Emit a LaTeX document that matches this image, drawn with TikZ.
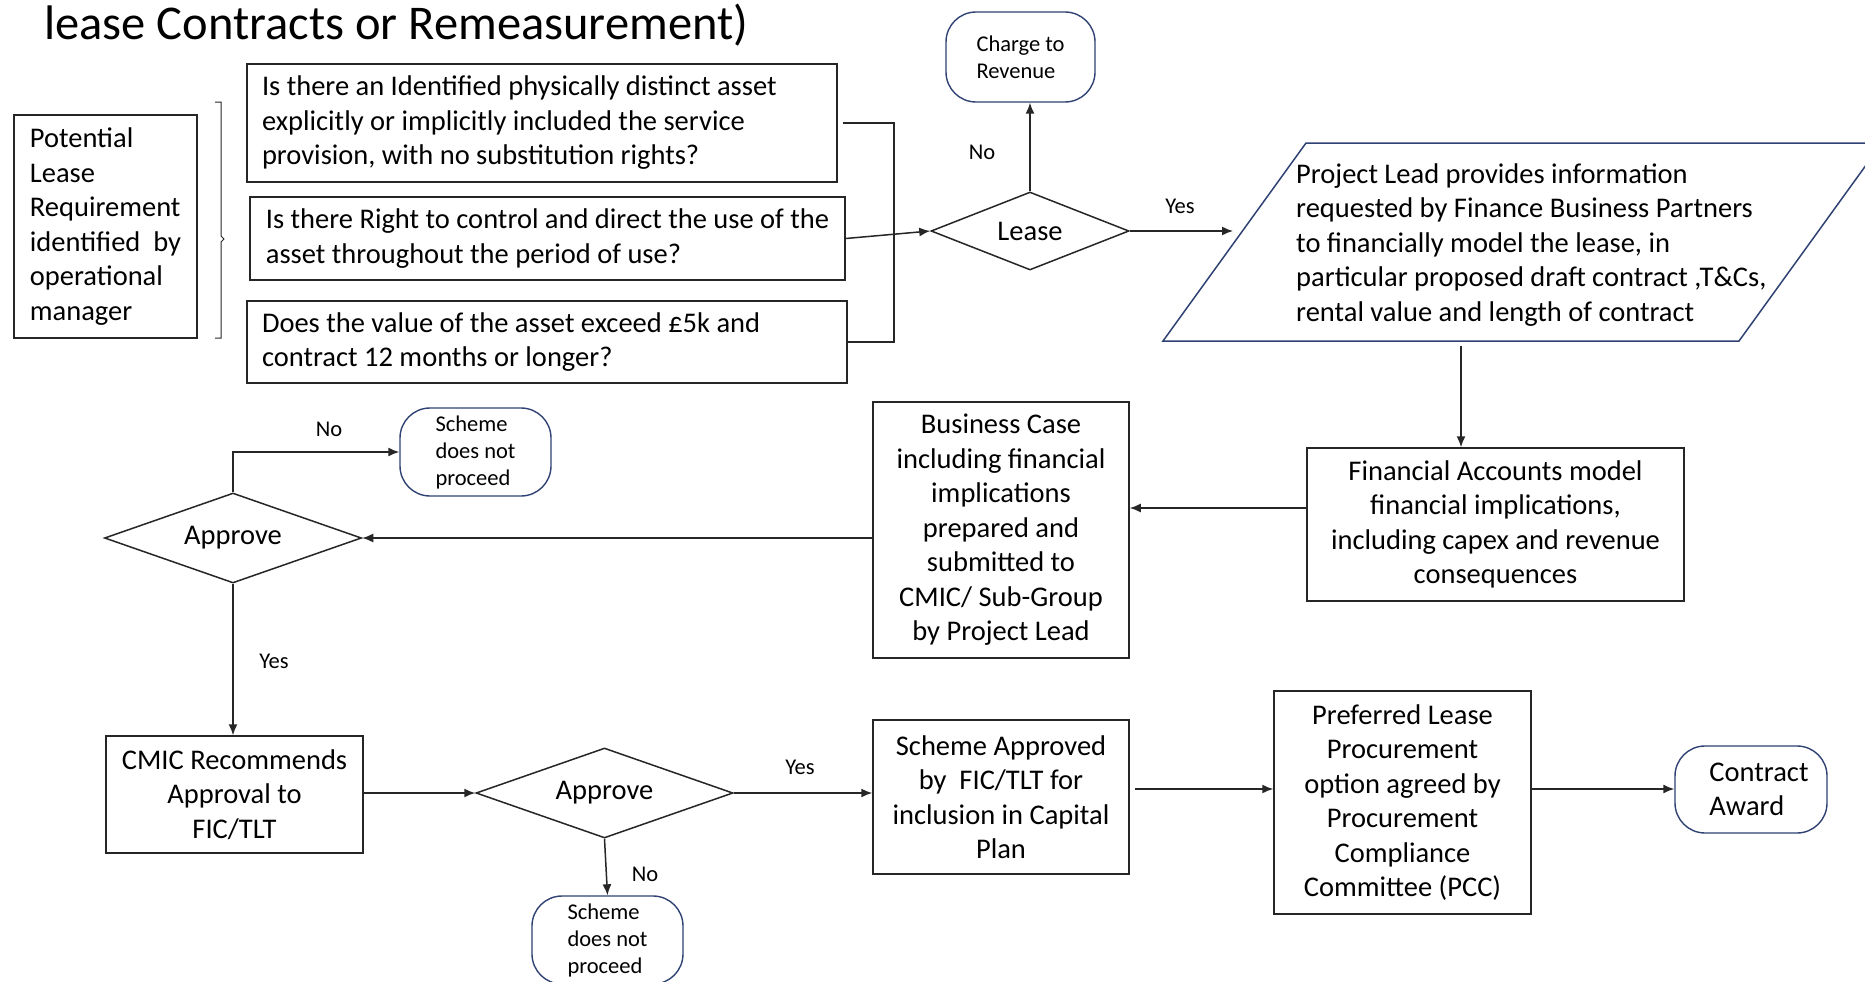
\documentclass[tikz,border=0pt]{standalone}
\usepackage{fontspec}
\setmainfont{Carlito}
\usetikzlibrary{shapes.geometric,arrows.meta}
\definecolor{navy}{HTML}{2F4273}
\definecolor{lineg}{HTML}{262626}
\begin{document}
\begin{tikzpicture}[x=1pt,y=-1pt,
 mainfont/.style={font=\fontsize{28.5}{34.5}\selectfont},
 smallfont/.style={font=\fontsize{22.5}{27}\selectfont},
 box/.style={draw=lineg, line width=1.5pt, mainfont, inner sep=0pt, align=center},
 lbox/.style={box, align=flush left},
 term/.style={draw=navy, line width=1.4pt, rounded corners=30pt, smallfont, align=flush left, inner sep=0pt},
 dec/.style={draw=lineg, line width=1.5pt, shape=diamond, mainfont, inner sep=0pt, aspect=2.8},
 arr/.style={draw=lineg, line width=1.5pt, -{Latex[length=11pt,width=9pt]}},
 conn/.style={draw=lineg, line width=1.5pt},
 lbl/.style={smallfont, inner sep=0pt}]
\useasboundingbox (0,0) rectangle (1865,982);
\clip (0,0) rectangle (1865,982);
\fill[white] (0,0) rectangle (1865,982);

\node[anchor=base west, font=\fontsize{48.5}{58}\selectfont, inner sep=0pt] (title) at (44,40) {lease Contracts or Remeasurement)};

% left column
\node[lbox, minimum width=183, minimum height=223] (pot) at (105.5,226.5)
 {Potential\\ Lease\\ Requirement\\ identified\ \ by\\ operational\\ manager};
\draw[line width=1pt, draw=lineg] (215,102) -- (221,102) -- (221,236) -- (224,239) -- (221,242) -- (221,338) -- (215,338);

\node[lbox, text width=560, minimum width=590, minimum height=118] (q1) at (542,123)
 {Is there an Identified physically distinct asset\\ explicitly or implicitly included the service\\ provision, with no substitution rights?};
\node[lbox, minimum width=595, minimum height=83] (q2) at (547.5,238.5)
 {Is there Right to control and direct the use of the\\ asset throughout the period of use?};
\node[lbox, text width=570, minimum width=600, minimum height=82] (q3) at (547,342)
 {Does the value of the asset exceed £5k and\\ contract 12 months or longer?};

% lease decision
\node[dec, minimum width=198, minimum height=78] (lease) at (1030,231) {Lease};
\node[term, minimum width=149, minimum height=90] (charge) at (1020.5,57) {Charge to\\ Revenue};

% parallelogram
\draw[draw=navy, line width=1.5pt] (1163,341) -- (1306,143) -- (1882,143) -- (1739,341) -- cycle;
\node[anchor=west, mainfont, align=flush left, inner sep=0pt] (pltext) at (1296,245)
 {Project Lead provides information\\ requested by Finance Business Partners\\ to financially model the lease, in\\ particular proposed draft contract ,T\&Cs,\\ rental value and length of contract};
\coordinate (plin) at (1233,231);
\coordinate (plout) at (1461,341);

% middle row
\node[box, minimum width=377, minimum height=153] (fin) at (1495.5,524.5)
 {Financial Accounts model\\ financial implications,\\ including capex and revenue\\ consequences};
\node[box, minimum width=256, minimum height=256] (bc) at (1001,530)
 {Business Case\\ including financial\\ implications\\ prepared and\\ submitted to\\ CMIC/ Sub-Group\\ by Project Lead};
\node[dec, minimum width=257, minimum height=90] (ap1) at (233,538) {Approve};
\node[term, minimum width=151, minimum height=88] (sch1) at (475.5,452) {Scheme\\ does not\\ proceed};

% bottom row
\node[box, minimum width=257, minimum height=117] (cmic) at (234.5,794.5)
 {CMIC Recommends\\ Approval to\\ FIC/TLT};
\node[dec, minimum width=257, minimum height=90] (ap2) at (604.5,793) {Approve};
\node[term, minimum width=151, minimum height=88] (sch2) at (607.5,940) {Scheme\\ does not\\ proceed};
\node[box, minimum width=256, minimum height=154] (sa) at (1001,797)
 {Scheme Approved\\ by\ \ FIC/TLT for\\ inclusion in Capital\\ Plan};
\node[box, minimum width=257, minimum height=223] (pref) at (1402.5,802.5)
 {Preferred Lease\\ Procurement\\ option agreed by\\ Procurement\\ Compliance\\ Committee (PCC)};
\node[term, mainfont, minimum width=152, minimum height=87] (ca) at (1751,789.5)
 {\hspace*{16pt}Contract\\ \hspace*{16pt}Award};

% labels
\node[lbl] (n1) at (982,152) {No};
\node[lbl] (y1) at (1180,206) {Yes};
\node[lbl] (n2) at (329,429) {No};
\node[lbl] (y2) at (274,661) {Yes};
\node[lbl] (y3) at (800,767) {Yes};
\node[lbl] (n3) at (645,874) {No};

% connectors
\draw[conn] ([xshift=5pt]q1.east) -- ++(51,0) |- (q3.east);
\draw[arr] (q2.east) -- (lease.west);
\draw[arr] (lease.north) -- (lease.north |- charge.south);
\draw[arr] (lease.east) -- (plin);
\draw[arr, shorten <=5pt] (plout) -- (plout |- fin.north);
\coordinate (f1) at ([yshift=16.5pt]fin.west);
\draw[arr] (f1) -- (f1 -| bc.east);
\draw[arr] (bc.west |- ap1) -- (ap1.east);
\draw[arr] (ap1.north) |- (sch1.west);
\draw[arr] (ap1.south) -- (ap1.south |- cmic.north);
\draw[arr] (cmic.east |- ap2) -- (ap2.west);
\draw[arr] (ap2.east) -- (ap2.east -| sa.west);
\draw[arr] (ap2.south) -- (sch2.north);
\coordinate (s1) at ([yshift=8pt]sa.east);
\draw[arr, shorten <=5pt] (s1) -- (s1 -| pref.west);
\draw[arr] (s1 -| pref.east) -- (s1 -| ca.west);
\end{tikzpicture}
\end{document}
